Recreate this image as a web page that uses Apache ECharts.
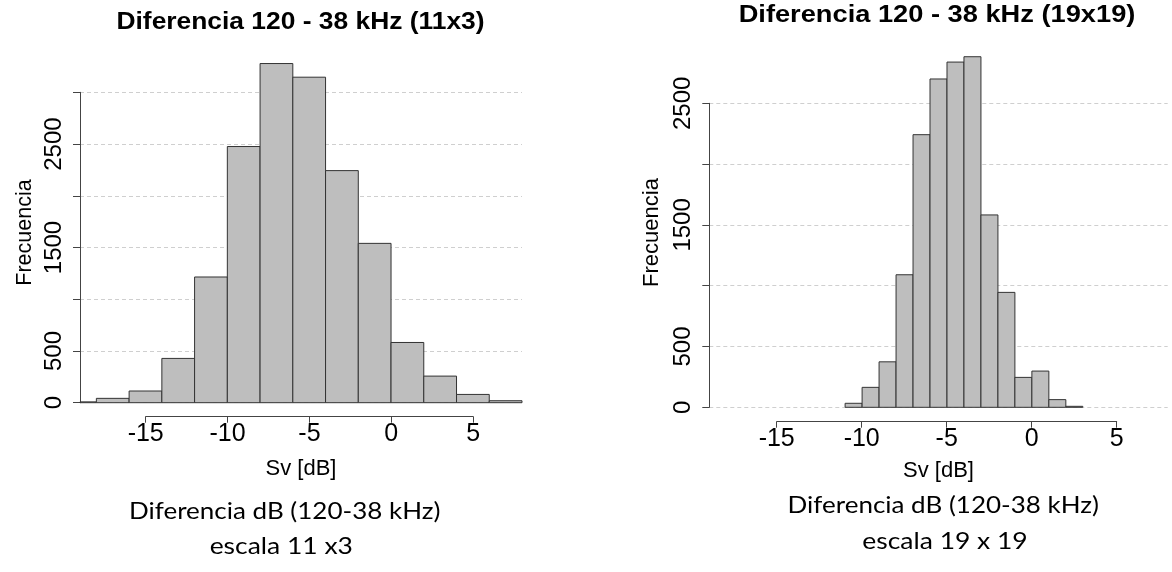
<!DOCTYPE html>
<html>
<head>
<meta charset="utf-8">
<script src="https://cdn.jsdelivr.net/npm/echarts@6/dist/echarts.min.js"></script>
<style>
html,body{margin:0;padding:0;background:#fff;}
#chart{width:1172px;height:572px;}
</style>
</head>
<body>
<div id="chart"></div>
<script>
// ---- data ----
const leftTitle = 'Diferencia 120 - 38 kHz (11x3)';
const rightTitle = 'Diferencia 120 - 38 kHz (19x19)';
const xName = 'Sv [dB]';
const yName = 'Frecuencia';
const leftCaption = ['Diferencia dB (120-38 kHz)', 'escala 11 x3'];
const rightCaption = ['Diferencia dB (120-38 kHz)', 'escala 19 x 19'];

// bin edges (dB) and counts
const leftBreaks = [-20, -18, -16, -14, -12, -10, -8, -6, -4, -2, 0, 2, 4, 6, 8];
const leftCounts = [8, 42, 113, 428, 1215, 2476, 3278, 3146, 2243, 1540, 582, 257, 80, 19];
const rightBreaks = [-11, -10, -9, -8, -7, -6, -5, -4, -3, -2, -1, 0, 1, 2, 3];
const rightCounts = [33, 164, 374, 1090, 2242, 2700, 2839, 2883, 1582, 945, 246, 298, 63, 8];

// tick labels
const xTickLabels = ['-15', '-10', '-5', '0', '5'];
const yTickLabels = {0: '0', 500: '500', 1500: '1500', 2500: '2500'};

// ---- build ----
function toBins(breaks, counts) {
  return counts.map((c, i) => [breaks[i], breaks[i + 1], c]);
}
function renderBar(params, api) {
  const lo = api.value(0), hi = api.value(1), c = api.value(2);
  const p0 = api.coord([lo, 0]);
  const p1 = api.coord([hi, c]);
  const cs = params.coordSys;
  const x0 = Math.max(p0[0], cs.x);
  const x1 = Math.min(p1[0], cs.x + cs.width);
  if (x1 <= x0) return null;
  return {
    type: 'rect',
    shape: {x: x0, y: p1[1], width: x1 - x0, height: p0[1] - p1[1]},
    style: {fill: '#BEBEBE', stroke: '#333333', lineWidth: 1}
  };
}
const FONT = '"Liberation Sans", Arial, sans-serif';
const CAPFONT = 'Lato, "Open Sans", sans-serif';
const axisColor = '#444';

function mainX(gi, gap) {
  return {
    gridIndex: gi, type: 'value', min: -19, max: 8,
    axisLine: {show: false, onZero: false}, axisTick: {show: false}, axisLabel: {show: false}, splitLine: {show: false},
    name: xName, nameLocation: 'middle', nameGap: gap,
    nameTextStyle: {fontFamily: FONT, fontSize: 22, color: '#000'}
  };
}
function helperX(gi, off) {
  return {
    gridIndex: gi, type: 'value', min: -15, max: 5, interval: 5, offset: off,
    axisLine: {show: true, onZero: false, lineStyle: {color: axisColor, width: 1}},
    axisTick: {show: true, length: 6, lineStyle: {color: axisColor}},
    axisLabel: {fontFamily: FONT, fontSize: 25, color: '#000', margin: 5,
      formatter: v => xTickLabels[Math.round((v + 15) / 5)]},
    splitLine: {show: false}
  };
}
function mainY(gi, max) {
  return {
    gridIndex: gi, type: 'value', min: 0, max: max, interval: 500,
    axisLine: {show: true, onZero: false, lineStyle: {color: axisColor, width: 1}},
    axisTick: {show: true, length: 7, lineStyle: {color: axisColor}},
    axisLabel: {rotate: 90, fontFamily: FONT, fontSize: 24, color: '#000', margin: 14,
      formatter: v => (yTickLabels[v] !== undefined ? yTickLabels[v] : '')},
    splitLine: {show: true, lineStyle: {color: '#cfcfcf', type: [4, 3], width: 1}}
  };
}
function helperY(gi) {
  return {gridIndex: gi, type: 'value', min: 0, max: 1, show: false};
}
function txt(x, y, text, font, sx, rot) {
  return {type: 'text', x: x, y: y, rotation: rot || 0, scaleX: sx || 1,
    style: {text: text, font: font, fill: '#000', align: 'center', verticalAlign: 'middle'}};
}

const option = {
  backgroundColor: '#fff',
  animation: false,
  grid: [
    {left: 80, right: 650, top: 92.3, bottom: 169.3},
    {left: 145.7, right: 698.8, top: 92.3, bottom: 169.3},
    {left: 709.3, right: 4.3, top: 103.3, bottom: 164.7},
    {left: 776.7, right: 55.3, top: 103.3, bottom: 164.7}
  ],
  xAxis: [mainX(0, 55), helperX(1, 14), mainX(2, 53), helperX(3, 14.4)],
  yAxis: [mainY(0, 3000), helperY(1), mainY(2, 2500), helperY(3)],
  series: [
    {type: 'custom', xAxisIndex: 0, yAxisIndex: 0, renderItem: renderBar,
      encode: {x: [0, 1], y: 2}, data: toBins(leftBreaks, leftCounts), clip: false, silent: true},
    {type: 'custom', xAxisIndex: 2, yAxisIndex: 2, renderItem: renderBar,
      encode: {x: [0, 1], y: 2}, data: toBins(rightBreaks, rightCounts), clip: false, silent: true}
  ],
  graphic: [
    txt(300.5, 22.4, leftTitle, 'bold 23px ' + FONT, 1.147),
    txt(937, 15.8, rightTitle, 'bold 24px ' + FONT, 1.135),
    txt(25, 232.5, yName, '21.5px ' + FONT, 1, Math.PI / 2),
    txt(651.7, 232.5, yName, '22px ' + FONT, 1, Math.PI / 2),
    txt(284.7, 512, leftCaption[0], '23px ' + CAPFONT, 1.13),
    txt(281.3, 547, leftCaption[1], '23px ' + CAPFONT, 1.15),
    txt(943.3, 506, rightCaption[0], '23px ' + CAPFONT, 1.13),
    txt(945, 542, rightCaption[1], '23px ' + CAPFONT, 1.15)
  ]
};
const chart = echarts.init(document.getElementById('chart'), null, {renderer: 'canvas'});
chart.setOption(option);
</script>
</body>
</html>
